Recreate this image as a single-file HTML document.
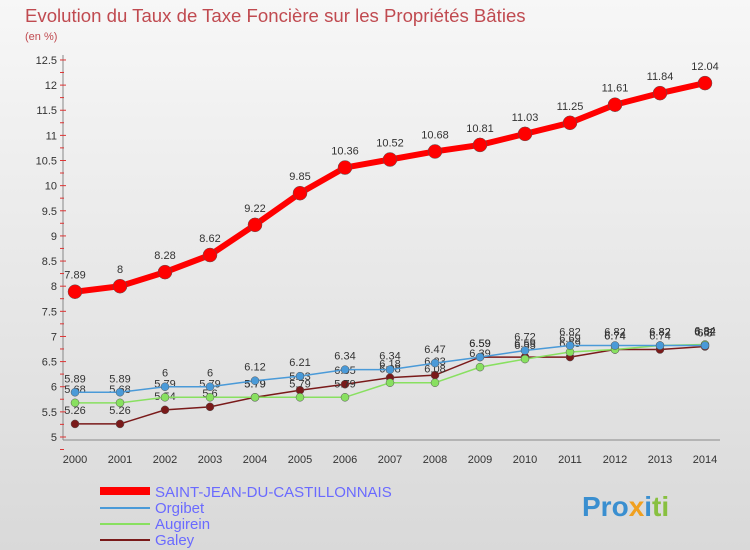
<!DOCTYPE html>
<html><head><meta charset="utf-8"><style>
body{margin:0;width:750px;height:550px;overflow:hidden;font-family:"Liberation Sans",sans-serif}
svg{display:block}
</style></head><body>
<svg id="c" width="750" height="550">
<defs><linearGradient id="bg" x1="0" y1="0" x2="0" y2="1"><stop offset="0" stop-color="#f7f7f7"/><stop offset="1" stop-color="#d9d9d9"/></linearGradient></defs>
<rect width="750" height="550" fill="url(#bg)"/>
<text x="25" y="22" font-size="18.6" fill="#c04a50">Evolution du Taux de Taxe Foncière sur les Propriétés Bâties</text>
<text x="25" y="40" font-size="11" fill="#c04a50">(en %)</text>
<g id="ax"></g><g id="plot"></g>
<g>
<rect x="100" y="487" width="50" height="8" fill="#ff0000"/>
<text x="155" y="497" font-size="15" fill="#6a6aff">SAINT-JEAN-DU-CASTILLONNAIS</text>
<rect x="100" y="507" width="50" height="2" fill="#4a9ad8"/>
<text x="155" y="513" font-size="15" fill="#6a6aff">Orgibet</text>
<rect x="100" y="523" width="50" height="2" fill="#88e060"/>
<text x="155" y="529" font-size="15" fill="#6a6aff">Augirein</text>
<rect x="100" y="539" width="50" height="2" fill="#7a1a1a"/>
<text x="155" y="545" font-size="15" fill="#6a6aff">Galey</text>
</g>
<text x="582" y="516" font-size="28" font-weight="bold" fill="#3a8fd0">Pro<tspan fill="#f0a020">x</tspan><tspan fill="#3a8fd0">i</tspan><tspan fill="#88c040">ti</tspan></text>
</svg>
<script>
const years=[2000,2001,2002,2003,2004,2005,2006,2007,2008,2009,2010,2011,2012,2013,2014];
const saintJean=[7.89,8,8.28,8.62,9.22,9.85,10.36,10.52,10.68,10.81,11.03,11.25,11.61,11.84,12.04];
const orgibet=[5.89,5.89,6,6,6.12,6.21,6.34,6.34,6.47,6.59,6.72,6.82,6.82,6.82,6.82];
const augirein=[5.68,5.68,5.79,5.79,5.79,5.79,5.79,6.08,6.08,6.39,6.55,6.69,6.74,6.82,6.84];
const galey=[5.26,5.26,5.54,5.6,5.79,5.93,6.05,6.18,6.23,6.59,6.59,6.59,6.74,6.74,6.8];
const yTicks=[5,5.5,6,6.5,7,7.5,8,8.5,9,9.5,10,10.5,11,11.5,12,12.5];
const NS="http://www.w3.org/2000/svg";
const x=i=>75+i*45, y=v=>437-(v-5)*50.27;
function mk(t,a,p){const e=document.createElementNS(NS,t);for(const k in a)e.setAttribute(k,a[k]);p.appendChild(e);return e;}
const ax=document.getElementById('ax'),plot=document.getElementById('plot');
const yl=mk('line',{x1:63,y1:55,x2:63,y2:440,stroke:'#888'},ax);

const xl=mk('line',{x1:63,y1:440,x2:720,y2:440,stroke:'#888'},ax);

yTicks.forEach(v=>{mk('line',{x1:60,x2:66,y1:y(v),y2:y(v),stroke:'#d33'},ax);
 const t=mk('text',{x:57,y:y(v)+4,'font-size':11,'text-anchor':'end',fill:'#333'},ax);t.textContent=v;
 
 mk('line',{x1:60,x2:64,y1:y(v)+12.5,y2:y(v)+12.5,stroke:'#d33'},ax);});
years.forEach((yr,i)=>{const t=mk('text',{x:x(i),y:463,'font-size':11,'text-anchor':'middle',fill:'#333'},ax);t.textContent=yr;
 });
function series(d,col,w,r,name){const g=mk('g',{},plot);
 
 mk('polyline',{points:d.map((v,i)=>x(i)+','+y(v)).join(' '),fill:'none',stroke:col,'stroke-width':w},g);
 d.forEach((v,i)=>{const c=mk('circle',{cx:x(i),cy:y(v),r:r,fill:col,stroke:'#555','stroke-width':0.5},g);
  
  const t=mk('text',{x:x(i),y:y(v)-(r+6),'font-size':11,'text-anchor':'middle',fill:'#333'},g);t.textContent=v;
  });}
series(galey,'#7a1a1a',1.5,4,'galey');
series(augirein,'#88e060',1.5,4,'augirein');
series(orgibet,'#4a9ad8',1.5,4,'orgibet');
series(saintJean,'#ff0000',6,7,'saint-jean');
</script>
</body></html>
